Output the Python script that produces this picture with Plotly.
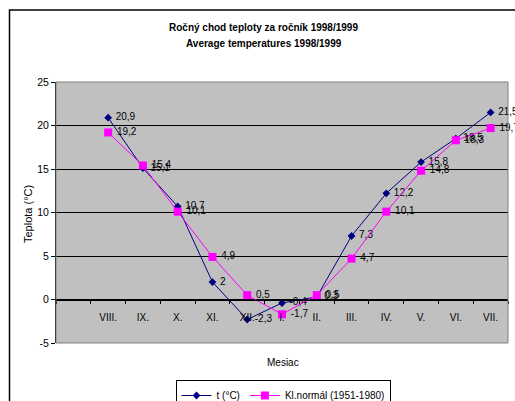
import plotly.graph_objects as go

# ---- data ----
months = ["VIII.", "IX.", "X.", "XI.", "XII.", "I.", "II.", "III.", "IV.", "V.", "VI.", "VII."]
t_1998_1999 = [20.9, 15.1, 10.7, 2.0, -2.3, -0.4, 0.3, 7.3, 12.2, 15.8, 18.5, 21.5]
kl_normal = [19.2, 15.4, 10.1, 4.9, 0.5, -1.7, 0.5, 4.7, 10.1, 14.8, 18.3, 19.7]
y_ticks = [-5, 0, 5, 10, 15, 20, 25]

# category slots: slot 0 is empty, months occupy slots 1..12
x_pos = list(range(1, len(months) + 1))
boundaries = [i - 0.5 for i in range(0, len(months) + 2)]


def fmt(v):
    return f"{v:g}".replace(".", ",")


FONT = "Arial, 'Liberation Sans', sans-serif"

fig = go.Figure()
fig.add_trace(go.Scatter(
    x=x_pos, y=t_1998_1999, name="t (°C)",
    mode="lines+markers+text",
    line=dict(color="#000080", width=1),
    marker=dict(symbol="diamond", size=6, color="#000080"),
    text=[" " + fmt(v) for v in t_1998_1999],
    textposition="middle right",
    textfont=dict(family=FONT, size=10, color="#000000"),
    cliponaxis=False,
))
fig.add_trace(go.Scatter(
    x=x_pos, y=kl_normal, name="Kl.normál (1951-1980)",
    mode="lines+markers+text",
    line=dict(color="#FF00FF", width=1),
    marker=dict(symbol="square", size=8, color="#FF00FF"),
    text=[" " + fmt(v) for v in kl_normal],
    textposition="middle right",
    textfont=dict(family=FONT, size=10, color="#000000"),
    cliponaxis=False,
))

W, H = 515, 401
L, R, T, B = 56, 7, 82, 58
pw, ph = W - L - R, H - T - B


def px_x(px):
    return (px - L) / pw


def px_y(py):
    return (H - B - py) / ph


fig.update_layout(
    width=W, height=H,
    margin=dict(l=L, r=R, t=T, b=B, pad=0, autoexpand=False),
    paper_bgcolor="#FFFFFF",
    plot_bgcolor="#C0C0C0",
    font=dict(family=FONT, size=10, color="#000000"),
    showlegend=True,
    legend=dict(
        orientation="h", x=px_x(283), xanchor="center", y=px_y(380), yanchor="top",
        bordercolor="#000000", borderwidth=1, bgcolor="#FFFFFF",
        font=dict(family=FONT, size=10, color="#000000"),
        itemwidth=30, tracegroupgap=0,
    ),
    xaxis=dict(
        range=[-0.5, len(months) + 0.5],
        tickmode="array", tickvals=x_pos, ticktext=months,
        ticks="outside", ticklen=8, tickcolor="rgba(0,0,0,0)",
        minor=dict(tickmode="array", tickvals=boundaries, ticks="outside",
                   ticklen=3, tickcolor="#000000", tickwidth=1, showgrid=False),
        showgrid=False, zeroline=False,
        showline=True, linecolor="#000000", linewidth=1,
        anchor="free", position=(0 - y_ticks[0]) / (y_ticks[-1] - y_ticks[0]),
        tickfont=dict(family=FONT, size=10, color="#000000"),
        fixedrange=True, automargin=False,
    ),
    yaxis=dict(
        range=[y_ticks[0], y_ticks[-1]],
        tickmode="array", tickvals=y_ticks, ticktext=[str(v) for v in y_ticks],
        ticks="outside", ticklen=4, tickcolor="#000000",
        showgrid=True, gridcolor="#000000", gridwidth=1,
        zeroline=False,
        showline=True, linecolor="#000000", linewidth=1,
        tickfont=dict(family=FONT, size=10.5, color="#000000"),
        fixedrange=True, automargin=False,
    ),
    shapes=[
        # plot-area border (gray, top/right/bottom)
        dict(type="rect", xref="paper", yref="paper", x0=0, x1=1, y0=0, y1=1,
             line=dict(color="#808080", width=1), fillcolor="rgba(0,0,0,0)",
             layer="above"),
        # outer chart frame
        dict(type="rect", xref="paper", yref="paper",
             x0=px_x(9.5), x1=px_x(530), y0=px_y(420), y1=px_y(10),
             line=dict(color="#000000", width=1.5), fillcolor="rgba(0,0,0,0)",
             layer="below"),
    ],
    annotations=[
        dict(text="<b>Ročný chod teploty za ročník 1998/1999</b>", xref="paper", yref="paper",
             x=px_x(263.5), y=px_y(27), xanchor="center", yanchor="middle", showarrow=False,
             font=dict(family=FONT, size=10, color="#000000")),
        dict(text="<b>Average temperatures 1998/1999</b>", xref="paper", yref="paper",
             x=px_x(263.5), y=px_y(43), xanchor="center", yanchor="middle", showarrow=False,
             font=dict(family=FONT, size=10, color="#000000")),
        dict(text="Mesiac", xref="paper", yref="paper",
             x=px_x(282.5), y=px_y(362), xanchor="center", yanchor="middle", showarrow=False,
             font=dict(family=FONT, size=10, color="#000000")),
        dict(text="Teplota (°C)", xref="paper", yref="paper", textangle=-90,
             x=px_x(28), y=px_y(214), xanchor="center", yanchor="middle", showarrow=False,
             font=dict(family=FONT, size=11, color="#000000")),
    ],
)

fig.write_html(
    "out.html",
    config={"displayModeBar": False},
    post_script="document.body.style.margin='0';document.body.style.overflow='hidden';",
)
